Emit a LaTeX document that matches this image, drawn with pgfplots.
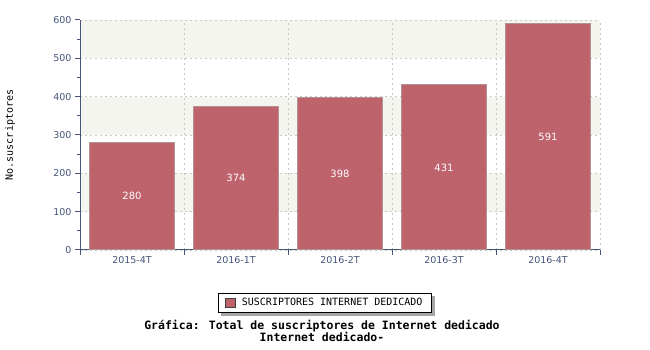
\documentclass[border=0pt]{standalone}
\usepackage{pgfplots}
\pgfplotsset{compat=1.18}
\usepackage{pgfplotstable}
\usepackage{fontspec}
\setmainfont{DejaVu Sans}
\newfontfamily\mono{DejaVu Sans Mono}
\definecolor{barc}{RGB}{190,98,108}
\definecolor{bare}{RGB}{180,145,150}
\definecolor{axc}{RGB}{70,85,120}
\definecolor{band}{RGB}{245,245,240}
\definecolor{gridc}{RGB}{200,200,200}
\pgfplotstableread{
x y
0 280
1 374
2 398
3 431
4 591
}\data
\begin{document}
\begin{tikzpicture}
\path (0pt,0pt) rectangle (650pt,350pt);
\begin{axis}[
  set layers,
  scale only axis, width=520pt, height=230pt,
  at={(80pt,100pt)}, anchor=south west,
  xmin=-0.5, xmax=4.5, ymin=0, ymax=600,
  axis lines=left,
  axis line style={draw=axc, line width=1pt, -},
  tick align=outside,
  major tick length=5pt, minor tick length=3pt,
  tick style={draw=axc, line width=1pt},
  ytick={0,100,...,600}, minor y tick num=1,
  xtick={-0.5,0.5,1.5,2.5,3.5,4.5}, xticklabels={},
  extra x ticks={0,1,2,3,4},
  extra x tick labels={2015-4T,2016-1T,2016-2T,2016-3T,2016-4T},
  extra x tick style={grid=none, major tick length=0pt, xticklabel style={yshift=-3pt}},
  xmajorgrids, ymajorgrids,
  major grid style={draw=gridc, dash pattern=on 2pt off 3pt, line width=0.8pt},
  ticklabel style={font=\fontsize{9.5}{11}\selectfont, text=axc},
  /pgf/number format/assume math mode=true,
  legend style={name=leg, at={(0.471,-0.23)}, anchor=center, draw=black, fill=white, line width=0.8pt,
    font=\mono\fontsize{10}{12}\selectfont, inner xsep=7pt, inner ysep=3pt},
  legend image code/.code={\draw[fill=barc, draw=darkgray, line width=0.6pt] (0pt,-4.5pt) rectangle (10pt,4.5pt);},
]
\addplot[on layer=axis background, fill=band, draw=none, forget plot] coordinates {(-0.5,100) (4.5,100) (4.5,200) (-0.5,200)} -- cycle;
\addplot[on layer=axis background, fill=band, draw=none, forget plot] coordinates {(-0.5,300) (4.5,300) (4.5,400) (-0.5,400)} -- cycle;
\addplot[on layer=axis background, fill=band, draw=none, forget plot] coordinates {(-0.5,500) (4.5,500) (4.5,600) (-0.5,600)} -- cycle;
\addplot[ybar, bar width=0.81, fill=barc, draw=bare, line width=1pt] table[x=x,y=y]{\data};
\addlegendentry{\hspace{4pt}SUSCRIPTORES INTERNET DEDICADO}
\addplot[draw=none, mark=none, forget plot, nodes near coords, point meta=explicit,
  nodes near coords style={text=white, anchor=center, font=\fontsize{10}{12}\selectfont, /pgf/number format/assume math mode=true}]
  table[x=x, y expr=\thisrow{y}/2, meta=y]{\data};
\end{axis}
\fill[gray!70] ([xshift=3pt,yshift=-3pt]leg.south west) rectangle ([xshift=3pt]leg.south east);
\fill[gray!70] ([yshift=-3pt]leg.south east) rectangle ([xshift=3pt,yshift=-3pt]leg.north east);
\node[rotate=90, font=\mono\fontsize{10}{12}\selectfont] at (10pt,215pt) {No.suscriptores};
\node[align=center, font=\mono\bfseries\fontsize{11.5}{12}\selectfont] at (322pt,19pt) {Gráfica: Total de suscriptores de Internet dedicado\\Internet dedicado-};
\end{tikzpicture}
\end{document}
